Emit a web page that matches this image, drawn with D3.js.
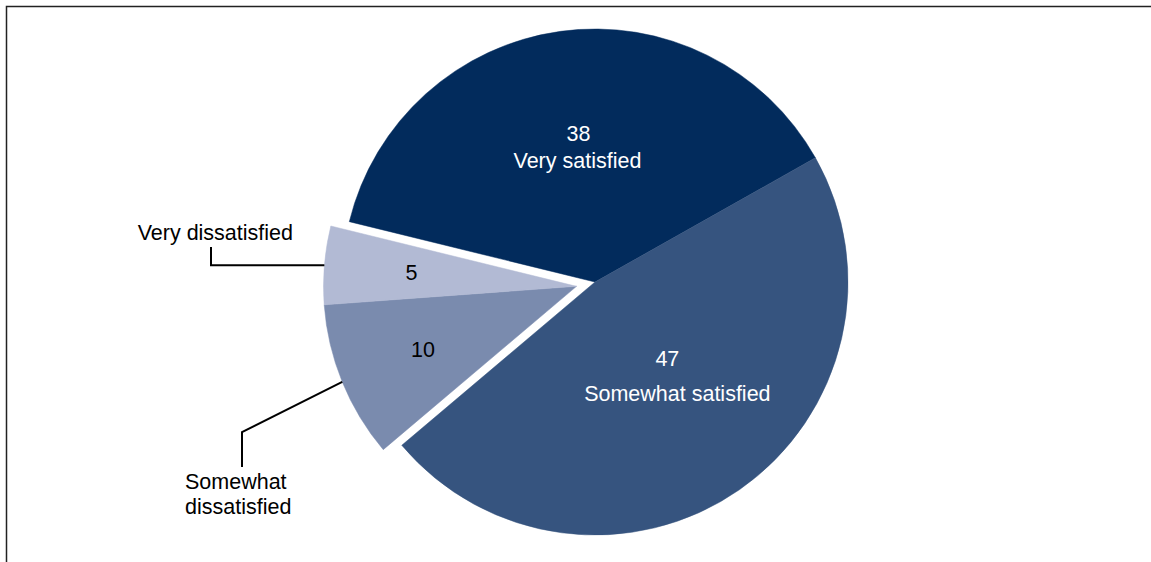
<!DOCTYPE html>
<html lang="en">
<head>
<meta charset="UTF-8">
<title>Satisfaction pie</title>
<script src="https://cdn.jsdelivr.net/npm/d3@7"></script>
<style>
  body { margin: 0; background: #fff; }
  text { font-family: "Liberation Sans", Arial, sans-serif; font-size: 21.5px; }
</style>
</head>
<body>
<svg></svg>
<script>
var categories = ['Very satisfied', 'Somewhat satisfied', 'Somewhat dissatisfied', 'Very dissatisfied'];
var values = [38, 47, 10, 5];
var colors = ['#022b5c', '#36547f', '#7a8bae', '#b2bad4'];
var exploded = [false, false, true, true];

var width = 1151, height = 562;
var cx = 595, cy = 282, radius = 253, explode = 19;

var svg = d3.select('svg')
    .attr('width', width)
    .attr('height', height);

// frame (only top and left edges show in the picture)
svg.append('path')
    .attr('d', 'M6.5,' + height + 'V6.5H' + width)
    .attr('fill', 'none')
    .attr('stroke', '#222')
    .attr('stroke-width', 1.5);

var data = categories.map(function(c, i) {
    return { name: c, value: values[i], color: colors[i], exploded: exploded[i] };
});

// slices run clockwise, very satisfied starts at about -76 degrees
var startAngle = -76.2 * Math.PI / 180;
var pie = d3.pie()
    .value(function(d) { return d.value; })
    .sort(null)
    .startAngle(startAngle)
    .endAngle(startAngle + 2 * Math.PI);

var arcs = pie(data);

// exploded group moves along the mid angle of both dissatisfied slices
var ex = arcs.filter(function(a) { return a.data.exploded; });
var exMid = (ex[0].startAngle + ex[ex.length - 1].endAngle) / 2;
var exDx = Math.sin(exMid) * explode, exDy = -Math.cos(exMid) * explode;

var arc = d3.arc().innerRadius(0).outerRadius(radius);

var slices = svg.append('g').selectAll('g.slice')
    .data(arcs)
    .enter().append('g')
    .attr('class', 'slice')
    .attr('transform', function(d) {
        return d.data.exploded
            ? 'translate(' + (cx + exDx) + ',' + (cy + exDy) + ')'
            : 'translate(' + cx + ',' + cy + ')';
    });

slices.append('path')
    .attr('d', arc)
    .attr('fill', function(d) { return d.data.color; })
    .attr('stroke', function(d) { return d.data.color; })
    .attr('stroke-width', 0.5);

function polar(a, r) { return [Math.sin(a) * r, -Math.cos(a) * r]; }

// inner label tweaks: radius, value offset, name offset, line gap, vertical nudge
var inner = {
    'Very satisfied': { r: 137, vdx: 2, ndx: 1, gap: 27, dy: 0 },
    'Somewhat satisfied': { r: 118, vdx: 5, ndx: 15, gap: 35, dy: -3 }
};

slices.each(function(d) {
    var sel = d3.select(this);
    var mid = (d.startAngle + d.endAngle) / 2;
    if (d.data.exploded) {
        var p = polar(mid, radius * 0.655);
        sel.append('text')
            .attr('x', p[0]).attr('y', p[1])
            .attr('dy', '0.36em')
            .attr('text-anchor', 'middle')
            .attr('fill', '#000')
            .text(d.data.value);
    } else {
        var o = inner[d.data.name];
        var q = polar(mid, o.r);
        var t = sel.append('text')
            .attr('text-anchor', 'middle')
            .attr('fill', '#fff');
        t.append('tspan')
            .attr('x', q[0] + o.vdx)
            .attr('y', q[1] + o.dy - o.gap / 2)
            .attr('dy', '0.36em')
            .text(d.data.value);
        t.append('tspan')
            .attr('x', q[0] + o.ndx)
            .attr('y', q[1] + o.dy + o.gap / 2)
            .attr('dy', '0.36em')
            .text(d.data.name);
    }
});

// leader lines and outside names for the dissatisfied slices
var leaders = {
    'Very dissatisfied': { knee: [211, null], end: [211, 247], text: [293, 240], anchor: 'end', lines: ['Very dissatisfied'] },
    'Somewhat dissatisfied': { knee: [242, 432], end: [242, 467], text: [185, 489], anchor: 'start', lines: ['Somewhat', 'dissatisfied'] }
};

ex.forEach(function(d) {
    var L = leaders[d.data.name];
    var mid = (d.startAngle + d.endAngle) / 2;
    var p = polar(mid, radius);
    var sx = cx + exDx + p[0], sy = cy + exDy + p[1];
    var ky = L.knee[1] === null ? sy : L.knee[1];
    svg.append('path')
        .attr('d', d3.line()([[sx, sy], [L.knee[0], ky], L.end]))
        .attr('fill', 'none')
        .attr('stroke', '#000')
        .attr('stroke-width', 2);
    var t = svg.append('text')
        .attr('text-anchor', L.anchor)
        .attr('fill', '#000');
    L.lines.forEach(function(s, i) {
        t.append('tspan')
            .attr('x', L.text[0])
            .attr('y', L.text[1] + i * 24.5)
            .text(s);
    });
});
</script>
</body>
</html>
